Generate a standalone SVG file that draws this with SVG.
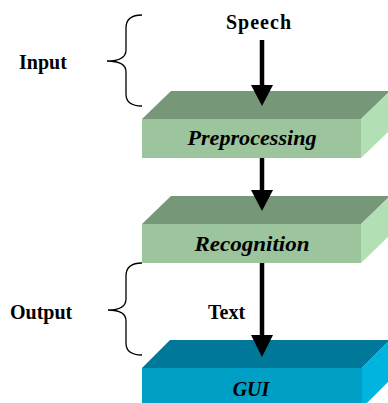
<svg xmlns="http://www.w3.org/2000/svg" width="388" height="403" viewBox="0 0 388 403">
<style>
.lbl{font-family:"Liberation Serif","Times New Roman",serif;font-weight:bold;font-size:20px;fill:#000}
.it{font-style:italic;text-anchor:middle}
.gtop{fill:#779779}.gfront{fill:#9cc59d}.gside{fill:#b2e0b4}
.btop{fill:#00789a}.bfront{fill:#00a0c6}.bside{fill:#00b4e0}
.brace{fill:none;stroke:#000;stroke-width:1.3}
.shaft{stroke:#000;stroke-width:4.5}
</style>
<rect width="388" height="403" fill="#fff"/>
<g id="input-label">
<path class="brace" d="M142,15 Q126,15 126,28 L126,50 Q126,61 107,61 Q126,61 126,72 L126,94 Q126,106 142,106"/>
<text class="lbl" x="19" y="69">Input</text>
</g>
<g id="output-label">
<path class="brace" d="M142,263 Q126,263 126,276 L126,299 Q126,310 108,310 Q126,310 126,321 L126,343 Q126,355 142,355"/>
<text class="lbl" x="10" y="319">Output</text>
</g>
<g id="speech">
<text class="lbl" x="226" y="29" textLength="65" lengthAdjust="spacing">Speech</text>
</g>
<g id="preprocessing">
<polygon class="gtop" points="142,119 171,91 390,91 361,119"/>
<polygon class="gside" points="361,119 390,91 390,130 361,158"/>
<rect class="gfront" x="142" y="119" width="219" height="39"/>
<text class="lbl it" x="252" y="145" textLength="129" lengthAdjust="spacingAndGlyphs">Preprocessing</text>
</g>
<g id="recognition">
<polygon class="gtop" points="142,224 171,196 390,196 361,224"/>
<polygon class="gside" points="361,224 390,196 390,235 361,263"/>
<rect class="gfront" x="142" y="224" width="219" height="39"/>
<text class="lbl it" x="252" y="251" textLength="115" lengthAdjust="spacingAndGlyphs">Recognition</text>
</g>
<g id="gui">
<polygon class="btop" points="142,368 170,340 390,340 362,368"/>
<polygon class="bside" points="362,368 390,340 390,380 362,408"/>
<rect class="bfront" x="142" y="368" width="220" height="40"/>
<text class="lbl it" x="251" y="396">GUI</text>
</g>
<g id="connectors">
<line class="shaft" x1="262" y1="40" x2="262" y2="87"/>
<polygon points="251,85 273,85 262,106"/>
<line class="shaft" x1="262" y1="158" x2="262" y2="192"/>
<polygon points="251,190 273,190 262,211"/>
<line class="shaft" x1="262" y1="263" x2="262" y2="337"/>
<polygon points="251,335 273,335 262,357"/>
<text class="lbl" x="208" y="319">Text</text>
</g>
</svg>
